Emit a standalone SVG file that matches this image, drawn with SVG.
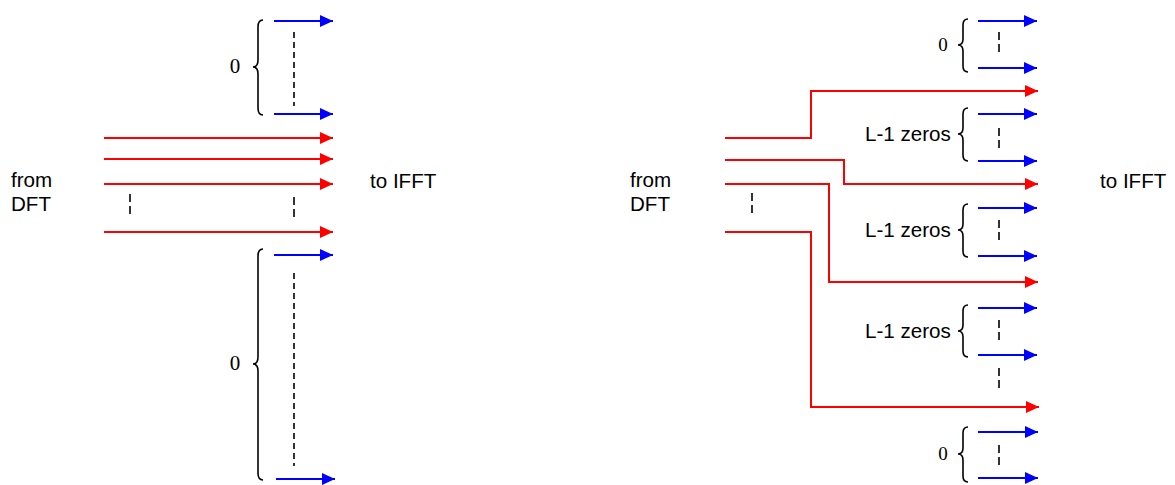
<svg xmlns="http://www.w3.org/2000/svg" width="1175" height="485" viewBox="0 0 1175 485">
<style>
.lbl{font-family:"Liberation Sans",Arial,sans-serif;font-size:20.6px;fill:#000}
.num{font-family:"Liberation Serif","Times New Roman",serif;font-size:21px;fill:#000}
.red{stroke:#ff0000;stroke-width:2;fill:none}
.blue{stroke:#0000ff;stroke-width:2;fill:none}
.brace{stroke:#000;stroke-width:1.6;fill:none}
.dash{stroke:#000;stroke-width:1.6;fill:none;stroke-dasharray:6 4}
.sdash{stroke:#000;stroke-width:1.6;fill:none;stroke-dasharray:8 4}
</style>
<defs>
<marker id="ar" viewBox="0 0 12 12" markerWidth="13" markerHeight="12" refX="12" refY="6" orient="auto" markerUnits="userSpaceOnUse" preserveAspectRatio="none"><path d="M0,0 L12,6 L0,12 z" fill="#ff0000"/></marker>
<marker id="ab" viewBox="0 0 12 12" markerWidth="13" markerHeight="12" refX="12" refY="6" orient="auto" markerUnits="userSpaceOnUse" preserveAspectRatio="none"><path d="M0,0 L12,6 L0,12 z" fill="#0000ff"/></marker>
</defs>
<rect width="1175" height="485" fill="#fff"/>

<!-- Left panel -->
<g id="left-labels">
<text class="lbl" x="11" y="187">from</text>
<text class="lbl" x="11" y="211">DFT</text>
<text class="lbl" x="370" y="188">to IFFT</text>
</g>
<g id="left-top-zeros">
<text class="num" x="235" y="73" text-anchor="middle">0</text>
<path class="brace" d="M263 20 Q258 20 258 27 L258 60 Q258 67 253 67 Q258 67 258 74 L258 108 Q258 115 263 115"/>
<line class="dash" x1="294" y1="32" x2="294" y2="106"/>
</g>
<g id="left-bottom-zeros">
<text class="num" x="235" y="370" text-anchor="middle">0</text>
<path class="brace" d="M263 249 Q258 249 258 256 L258 357 Q258 364 253 364 Q258 364 258 371 L258 473 Q258 480 263 480"/>
<line class="dash" x1="294" y1="273" x2="294" y2="466"/>
</g>
<g id="left-connectors">
<line class="blue" x1="274" y1="21" x2="333" y2="21" marker-end="url(#ab)"/>
<line class="blue" x1="274" y1="114" x2="333" y2="114" marker-end="url(#ab)"/>
<line class="red" x1="104" y1="138" x2="333" y2="138" marker-end="url(#ar)"/>
<line class="red" x1="104" y1="159" x2="333" y2="159" marker-end="url(#ar)"/>
<line class="red" x1="104" y1="184" x2="333" y2="184" marker-end="url(#ar)"/>
<line class="red" x1="104" y1="232" x2="333" y2="232" marker-end="url(#ar)"/>
<line class="blue" x1="274" y1="255" x2="333" y2="255" marker-end="url(#ab)"/>
<line class="blue" x1="276" y1="479" x2="335" y2="479" marker-end="url(#ab)"/>
<line class="sdash" x1="130" y1="194" x2="130" y2="214"/>
<line class="sdash" x1="294" y1="197" x2="294" y2="217"/>
</g>

<!-- Right panel -->
<g id="right-labels">
<text class="lbl" x="630" y="187">from</text>
<text class="lbl" x="630" y="211">DFT</text>
<text class="lbl" x="1100" y="188">to IFFT</text>
</g>
<g id="right-top-zeros">
<text class="num" x="943" y="51" text-anchor="middle" style="font-size:19px">0</text>
<path class="brace" d="M968 19 Q963 19 963 25 L963 39 Q963 45 958 45 Q963 45 963 51 L963 66 Q963 72 968 72"/>
<line class="sdash" x1="999" y1="32" x2="999" y2="52"/>
</g>
<g id="right-zeros-1">
<text class="lbl" x="865" y="141">L-1 zeros</text>
<path class="brace" d="M968 108 Q963 108 963 114 L963 128 Q963 134 958 134 Q963 134 963 140 L963 155 Q963 161 968 161"/>
<line class="sdash" x1="999" y1="128" x2="999" y2="148"/>
</g>
<g id="right-zeros-2">
<text class="lbl" x="865" y="237">L-1 zeros</text>
<path class="brace" d="M968 204 Q963 204 963 210 L963 224 Q963 230 958 230 Q963 230 963 236 L963 251 Q963 257 968 257"/>
<line class="sdash" x1="999" y1="220" x2="999" y2="240"/>
</g>
<g id="right-zeros-3">
<text class="lbl" x="865" y="338">L-1 zeros</text>
<path class="brace" d="M968 305 Q963 305 963 311 L963 325 Q963 331 958 331 Q963 331 963 337 L963 351 Q963 357 968 357"/>
<line class="sdash" x1="999" y1="320" x2="999" y2="340"/>
</g>
<g id="right-bottom-zeros">
<text class="num" x="943" y="460" text-anchor="middle" style="font-size:19px">0</text>
<path class="brace" d="M968 427 Q963 427 963 433 L963 448 Q963 454 958 454 Q963 454 963 460 L963 476 Q963 482 968 482"/>
<line class="sdash" x1="999" y1="445" x2="999" y2="466"/>
</g>
<g id="right-connectors">
<line class="blue" x1="978" y1="21" x2="1037" y2="21" marker-end="url(#ab)"/>
<line class="blue" x1="978" y1="68" x2="1037" y2="68" marker-end="url(#ab)"/>
<polyline class="red" points="725,138 811,138 811,91 1038,91" marker-end="url(#ar)"/>
<line class="blue" x1="978" y1="114" x2="1037" y2="114" marker-end="url(#ab)"/>
<line class="blue" x1="978" y1="161" x2="1037" y2="161" marker-end="url(#ab)"/>
<polyline class="red" points="725,160 844,160 844,184 1038,184" marker-end="url(#ar)"/>
<polyline class="red" points="725,184 829,184 829,282 1038,282" marker-end="url(#ar)"/>
<polyline class="red" points="725,232 811,232 811,407 1039,407" marker-end="url(#ar)"/>
<line class="blue" x1="978" y1="208" x2="1037" y2="208" marker-end="url(#ab)"/>
<line class="blue" x1="978" y1="256" x2="1037" y2="256" marker-end="url(#ab)"/>
<line class="blue" x1="978" y1="308" x2="1037" y2="308" marker-end="url(#ab)"/>
<line class="blue" x1="978" y1="355" x2="1037" y2="355" marker-end="url(#ab)"/>
<line class="blue" x1="978" y1="432" x2="1038" y2="432" marker-end="url(#ab)"/>
<line class="blue" x1="978" y1="478" x2="1038" y2="478" marker-end="url(#ab)"/>
<line class="sdash" x1="752" y1="193" x2="752" y2="214"/>
<line class="sdash" x1="999" y1="368" x2="999" y2="390"/>
</g>
</svg>
